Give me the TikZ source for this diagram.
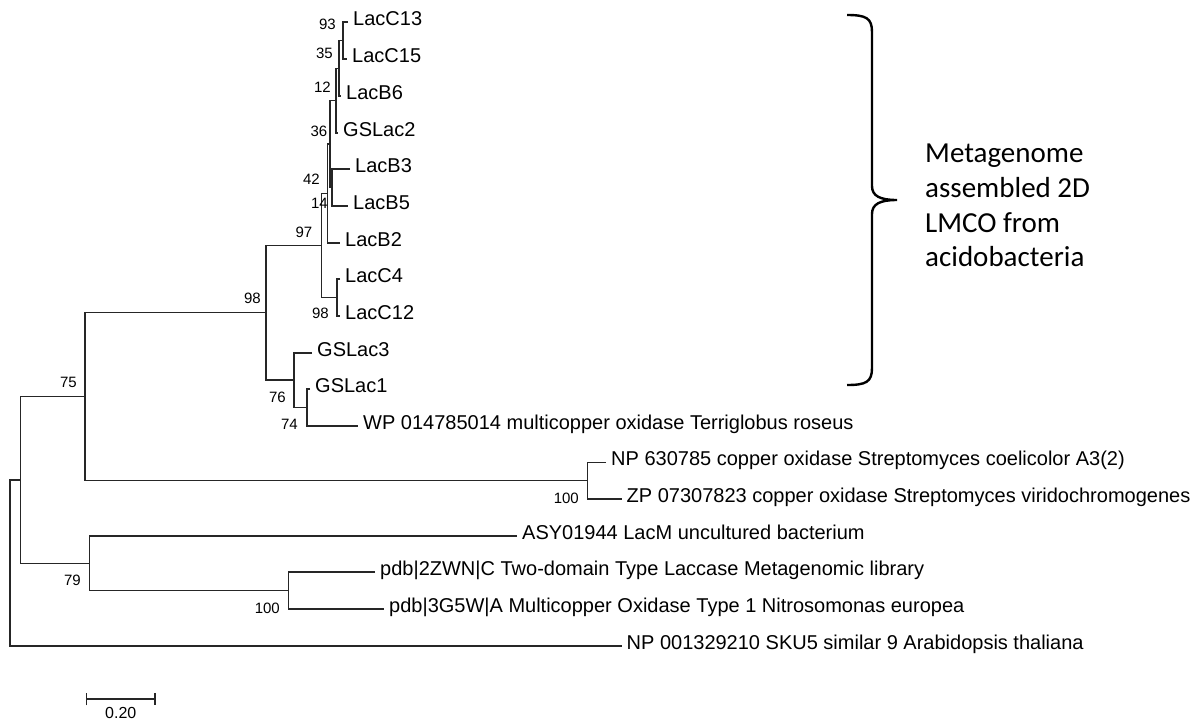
\documentclass[tikz,border=0pt]{standalone}
\usepackage{fontspec}
\setmainfont{Liberation Sans}
\newfontfamily\notefont{Carlito}
\usetikzlibrary{arrows.meta,positioning}
\definecolor{branch}{HTML}{262626}
\newcommand{\leaffont}{\fontsize{20}{23}\selectfont}
\newcommand{\bootfont}{\fontsize{15}{18}\selectfont}

\begin{document}
\begin{tikzpicture}[x=1pt,y=-1pt,
  br/.style={branch,line width=1.3pt},
  lf/.style={font=\leaffont,inner sep=0pt,yshift=-3pt},
  bs/.style={font=\bootfont,inner sep=0pt,anchor=east},
  brace/.style={black,line width=2.4pt},
  note/.style={font=\notefont\fontsize{29}{34.6}\selectfont,align=left,anchor=west,inner sep=0pt}]
  \useasboundingbox (0,0) rectangle (1194,724);

  % leaves
  \foreach \n/\x/\y/\lbl in {C13/348/22/LacC13, C15/347/59/LacC15, B6/341/96/LacB6,
      GS2/338/133/GSLac2, B3/350/169/LacB3, B5/348/206/LacB5, B2/340/243/LacB2,
      C4/340/279/LacC4, C12/340/316/LacC12, GS3/312/353/GSLac3, GS1/310/389/GSLac1,
      WP/358/426/WP 014785014 multicopper oxidase Terriglobus roseus,
      NP1/606/462.5/NP 630785 copper oxidase Streptomyces coelicolor A3(2),
      ZP/621.5/499/ZP 07307823 copper oxidase Streptomyces viridochromogenes,
      ASY/517/536/ASY01944 LacM uncultured bacterium,
      Z2/375/572/pdb|2ZWN|C Two-domain Type Laccase Metagenomic library,
      G3/384/609/pdb|3G5W|A Multicopper Oxidase Type 1 Nitrosomonas europea,
      NP2/621.5/646/NP 001329210 SKU5 similar 9 Arabidopsis thaliana} {
    \coordinate (\n) at (\x,\y);
    \node[lf,base right=5pt of \n] (l\n) {\lbl};
  }

  % inner nodes
  \foreach \n/\x/\y in {a/343/40.5, b/339/68.25, c/336/100.6, d/332/187.5, e/330/144,
      f/327.5/193.5, g/337/297.5, h/321.5/245.5, k/307/407.5, j/294/380, i/266/312.75,
      s/587.7/480.75, n75/85/396.75, p/288.3/590.5, n79/89.3/563.25, r/20.7/480, root/10/563}
    \coordinate (\n) at (\x,\y);

  % branches
  \foreach \u/\v/\w in {C13/a/C15, a/b/B6, b/c/GS2, B3/d/B5, c/e/d, e/f/B2, C4/g/C12,
      f/h/g, GS1/k/WP, GS3/j/k, h/i/j, NP1/s/ZP, i/n75/s, Z2/p/G3, ASY/n79/p,
      n75/r/n79, r/root/NP2}
    \draw[br] (\u) -| (\v) |- (\w);

  % bootstrap values
  \foreach \n/\x/\y/\v in {a/336/24/93, b/333/53/35, c/331/87/12, e/327.5/131/36,
      f/320/179/42, d/328/203/14, h/312.5/232/97, g/329/313/98, i/261/298/98,
      j/286/397/76, k/298/424/74, n75/77/382/75, n79/81/580/79, s/579/498/100,
      p/280/608/100}
    \node[bs] (bs\n) at (\x,\y) {\v};

  % scale bar
  \coordinate (sL) at (86,699);
  \coordinate (sR) at (155.7,699);
  \draw[br,{Bar[width=12.5pt]}-{Bar[width=12.5pt]}] (sL) -- (sR);
  \node[font=\fontsize{16}{19}\selectfont,inner sep=0pt] (sbl) at (120.8,713) {0.20};

  % brace and note
  \draw[brace] (847,15) .. controls (866,15) and (872,18) .. (872,32) -- (872,186)
    .. controls (872,196) and (880,200) .. (897,200)
    .. controls (880,200) and (872,204) .. (872,214) -- (872,368)
    .. controls (872,382) and (866,385) .. (847,385);
  \node[note] (note) at (925,205.5) {Metagenome\\assembled 2D\\LMCO from\\acidobacteria};
\end{tikzpicture}
\end{document}
